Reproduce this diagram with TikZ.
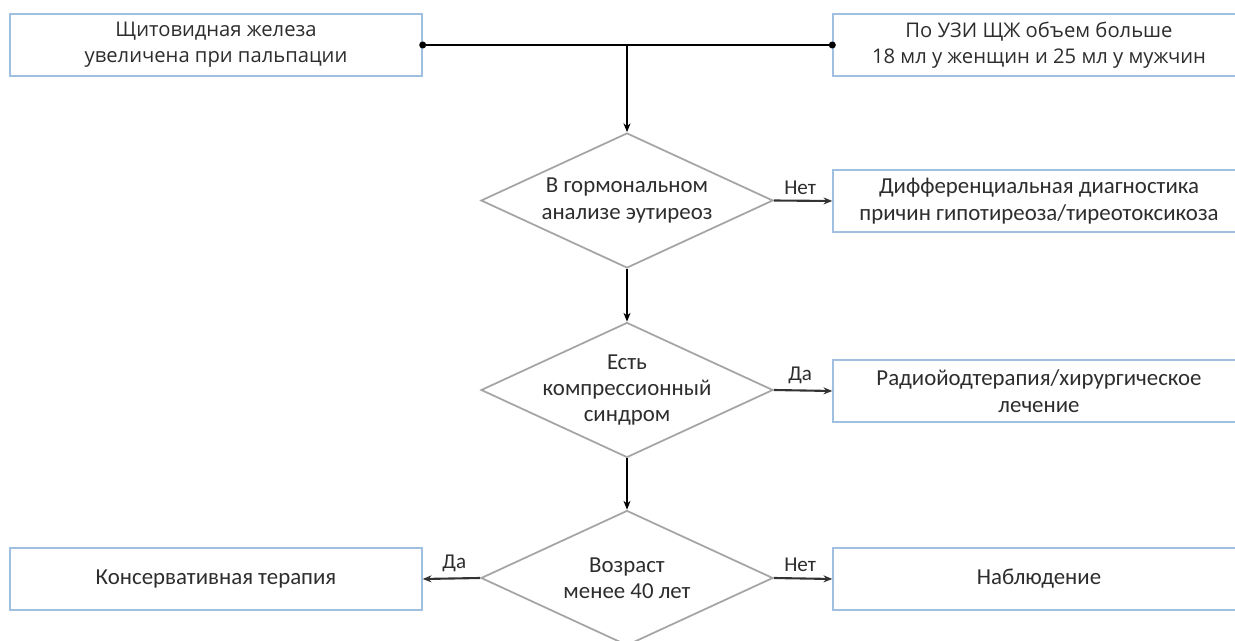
\documentclass[tikz,border=0pt]{standalone}
\usepackage{fontspec}
\setmainfont{Carlito}
\newfontfamily\topfont{Open Sans}
\definecolor{boxblue}{RGB}{160, 192, 225}
\definecolor{diagrey}{RGB}{165, 165, 165}
\definecolor{txtgrey}{RGB}{45, 45, 45}
\usetikzlibrary{shapes.geometric, arrows.meta, positioning}

\begin{document}
\begin{tikzpicture}[
  stepbox/.style={draw=boxblue, line width=0.8pt, fill=white, minimum width=8.24cm, minimum height=1.24cm, inner sep=0pt, align=center, text=txtgrey, font=\fontsize{13}{15.5}\selectfont},
  topbox/.style={stepbox, font=\topfont\fontsize{11.5}{15}\selectfont},
  decision/.style={diamond, aspect=2.16, draw=diagrey, line width=1pt, minimum width=5.84cm, minimum height=2.7cm, inner sep=0pt, align=center, text=txtgrey, font=\fontsize{13}{15}\selectfont},
  flow/.style={-{Stealth[length=5pt, width=4pt]}, line width=0.7pt},
  branch/.style={-{Stealth[length=5pt, width=4pt]}, line width=1.2pt, black!80},
  lbl/.style={text=txtgrey, font=\fontsize{12}{14}\selectfont, inner sep=3pt},
  joint/.style={circle, fill=black, inner sep=0pt, minimum size=4pt}
]
  \clip (0, 0) rectangle (24.7, -12.82);
  \useasboundingbox (0, 0) rectangle (24.7, -12.82);

  % Top boxes
  \node[topbox] (palp) at (4.32, -0.9) {Щитовидная железа\\увеличена при пальпации};
  \node[topbox] (uzi) at (20.78, -0.9) {По УЗИ ЩЖ объем больше\\18 мл у женщин и 25 мл у мужчин};

  % Decisions
  \node[decision] (hormone) at (12.54, -4.01) {В гормональном\\анализе эутиреоз};
  \node[decision, inner sep=-5pt] (compress) at (12.54, -7.8) {Есть\\компрессионный\\синдром};
  \node[decision] (age) at (12.54, -11.56) {Возраст\\менее 40 лет};

  % Outcomes
  \node[stepbox] (diff) at (20.78, -4.02) {Дифференциальная диагностика\\причин гипотиреоза/тиреотоксикоза};
  \node[stepbox] (surgery) at (20.78, -7.82) {Радиойодтерапия/хирургическое\\лечение};
  \node[stepbox] (conserv) at (4.32, -11.58) {Консервативная терапия};
  \node[stepbox] (observe) at (20.78, -11.58) {Наблюдение};

  % Connectors
  \coordinate (join) at (hormone.north |- palp.east);
  \draw[line width=1pt] (palp.east) -- (uzi.west);
  \node[joint] at (palp.east) {};
  \node[joint] at (uzi.west) {};
  \draw[flow] (join) -- (hormone.north);
  \draw[flow] (hormone.south) -- (compress.north);
  \draw[flow] (compress.south) -- (age.north);

  \draw[branch] (hormone.east) -- node[lbl, above, pos=0.45] {Нет} (diff.west);
  \draw[branch] (compress.east) -- node[lbl, above, pos=0.45] {Да} (surgery.west);
  \draw[branch] (age.west) -- node[lbl, above, pos=0.45] {Да} (conserv.east);
  \draw[branch] (age.east) -- node[lbl, above, pos=0.45] {Нет} (observe.west);
\end{tikzpicture}
\end{document}
